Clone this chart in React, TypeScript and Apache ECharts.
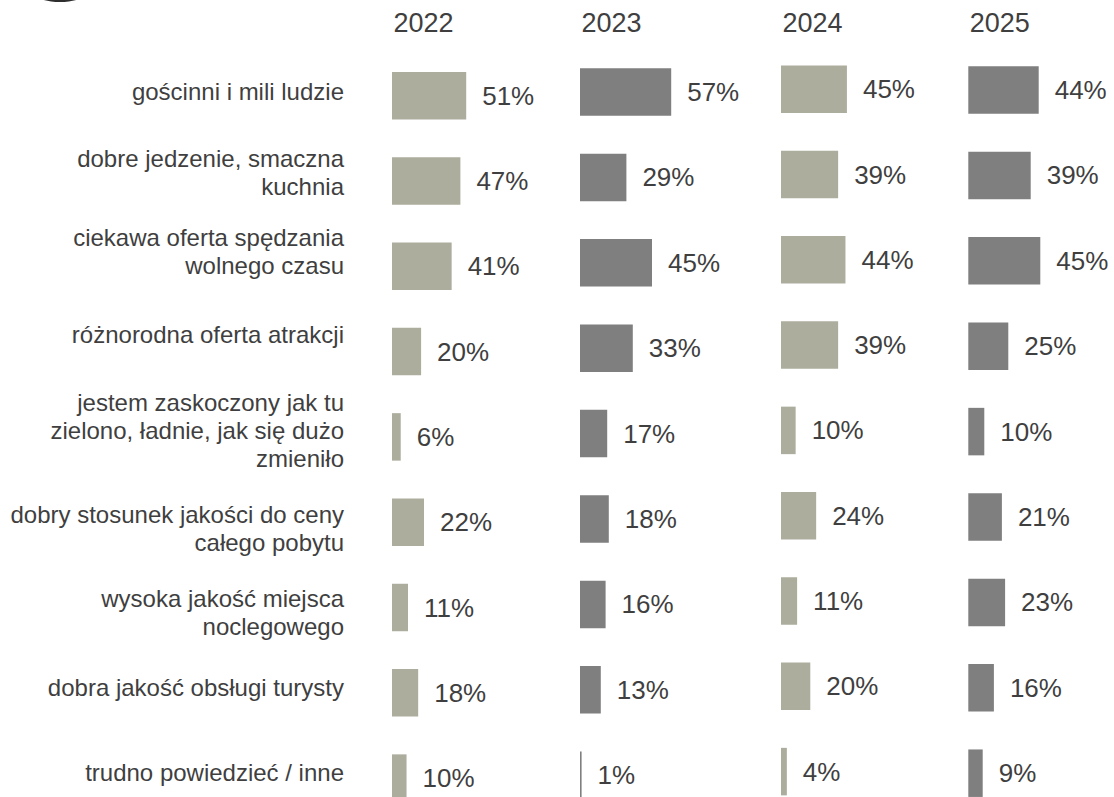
import React, { useEffect, useRef } from 'react';
import * as echarts from 'echarts';

const categories = [
  'gościnni i mili ludzie',
  'dobre jedzenie, smaczna\nkuchnia',
  'ciekawa oferta spędzania\nwolnego czasu',
  'różnorodna oferta atrakcji',
  'jestem zaskoczony jak tu\nzielono, ładnie, jak się dużo\nzmieniło',
  'dobry stosunek jakości do ceny\ncałego pobytu',
  'wysoka jakość miejsca\nnoclegowego',
  'dobra jakość obsługi turysty',
  'trudno powiedzieć / inne',
];

const years = ['2022', '2023', '2024', '2025'];

const values2022 = [51, 47, 41, 20, 6, 22, 11, 18, 10];
const values2023 = [57, 29, 45, 33, 17, 18, 16, 13, 1];
const values2024 = [45, 39, 44, 39, 10, 24, 11, 20, 4];
const values2025 = [44, 39, 45, 25, 10, 21, 23, 16, 9];

const seriesValues = [values2022, values2023, values2024, values2025];

const FONT = 'Liberation Sans, Arial, sans-serif';
const TEXT = '#3f3f3f';

export default function App() {
  const ref = useRef<HTMLDivElement>(null);

  useEffect(() => {
    const chart = echarts.init(ref.current as HTMLDivElement, null, { renderer: 'svg' });

    const panels = [
      { left: 392, width: 145.5, top: 53.05, band: 85.3, color: '#adad9e' },
      { left: 580, width: 160, top: 49.3, band: 85.4, color: '#7f7f7f' },
      { left: 781, width: 146.5, top: 46.55, band: 85.3, color: '#adad9e' },
      { left: 968.3, width: 160, top: 47.3, band: 85.4, color: '#7f7f7f' },
    ];

    // vertical shift of each category label relative to its row (px, negative = up)
    const labelShift = [-4, -9, -15, -17, -6, 6, 4.5, -5, -6];

    const rich: Record<string, any> = {};
    labelShift.forEach((s, i) => {
      const h = Math.max(1, Math.round(Math.abs(s) * 2));
      rich['sp' + i] = { fontSize: 1, lineHeight: h, height: h };
    });

    const grid = panels.map((p) => ({
      left: p.left,
      top: p.top,
      width: p.width,
      height: p.band * 9,
      containLabel: false,
      outerBoundsMode: 'none',
    }));

    const xAxis = panels.map((p, i) => ({
      type: 'value',
      gridIndex: i,
      min: 0,
      max: 100,
      show: false,
    }));

    const yAxis = panels.map((p, i) => ({
      type: 'category',
      gridIndex: i,
      inverse: true,
      data: categories,
      axisLine: { show: false },
      axisTick: { show: false },
      splitLine: { show: false },
      axisLabel: {
        show: i === 0,
        interval: 0,
        margin: 48,
        fontSize: 24,
        lineHeight: 28,
        fontFamily: FONT,
        color: TEXT,
        align: 'right',
        rich,
        formatter: (v: string, idx: number) => {
          const s = labelShift[idx];
          if (!s) return v;
          return s < 0 ? `${v}\n{sp${idx}| }` : `{sp${idx}| }\n${v}`;
        },
      },
    }));

    const series = panels.map((p, i) => ({
      type: 'bar',
      xAxisIndex: i,
      yAxisIndex: i,
      data: seriesValues[i],
      barWidth: 47.5,
      itemStyle: { color: p.color },
      label: {
        show: true,
        position: 'right',
        distance: 16,
        formatter: '{c}%',
        fontSize: 26,
        fontFamily: FONT,
        color: TEXT,
      },
    }));

    const graphic: any[] = years.map((y, i) => ({
      type: 'text',
      x: panels[i].left + 1.5,
      y: 22.7,
      style: {
        text: y,
        font: `27px ${FONT}`,
        fill: TEXT,
        textAlign: 'left',
        textVerticalAlign: 'middle',
      },
    }));
    graphic.push({
      type: 'circle',
      shape: { cx: 60, cy: -66, r: 68 },
      style: { fill: '#2e2e2e' },
    });

    chart.setOption({
      animation: false,
      backgroundColor: '#ffffff',
      grid,
      xAxis,
      yAxis,
      series,
      graphic,
    } as any);

    return () => {
      chart.dispose();
    };
  }, []);

  return (
    <div
      ref={ref}
      style={{ position: 'absolute', left: 0, top: 0, width: 1114, height: 797 }}
    />
  );
}
